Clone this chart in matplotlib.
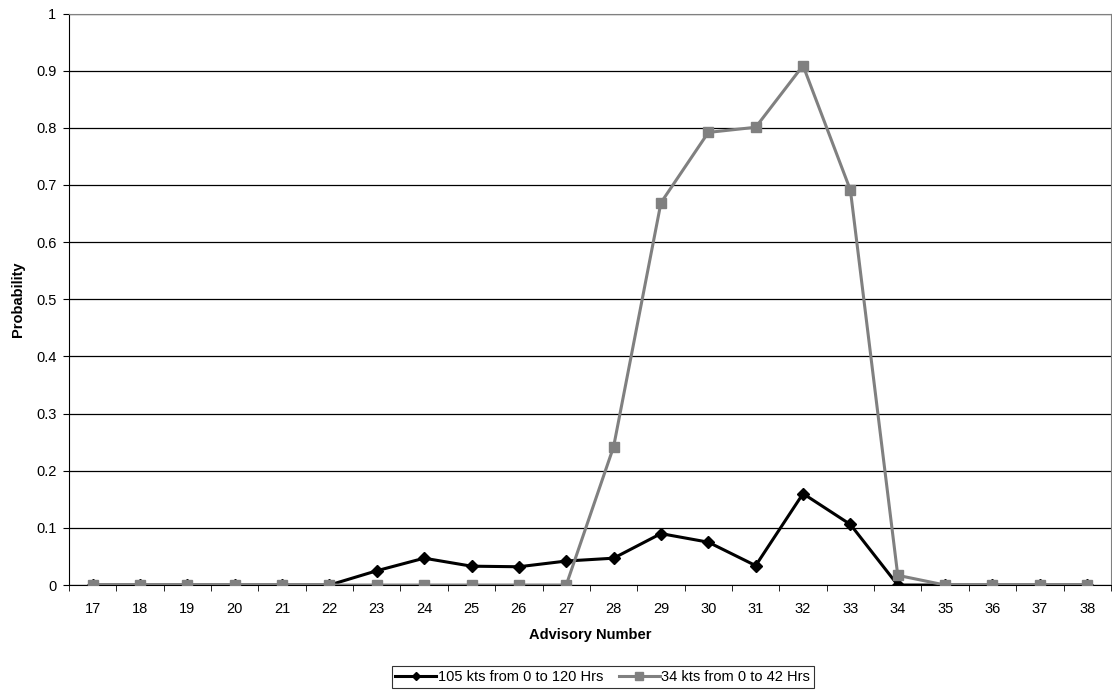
import numpy as np
import matplotlib.pyplot as plt

plt.rcParams['font.family'] = ['Liberation Sans', 'DejaVu Sans']

# data
advisory = list(range(17, 39))
p105 = [0, 0, 0, 0, 0, 0, 0.025, 0.047, 0.033, 0.032, 0.042, 0.047,
        0.090, 0.075, 0.034, 0.160, 0.106, 0, 0, 0, 0, 0]
p34 = [0, 0, 0, 0, 0, 0, 0, 0, 0, 0, 0, 0.242,
       0.669, 0.792, 0.801, 0.909, 0.691, 0.017, 0, 0, 0, 0]

fig = plt.figure(figsize=(11.12, 6.94), dpi=100)
ax = fig.add_axes([0.062, 0.157, 0.937, 0.8235])

x = np.arange(len(advisory))
ax.plot(x, p105, color='black', lw=2.2, marker='D', ms=6,
        label='105 kts from 0 to 120 Hrs', zorder=3)
ax.plot(x, p34, color='#808080', lw=2.2, marker='s', ms=7,
        label='34 kts from 0 to 42 Hrs', zorder=4)

ax.set_xlim(-0.5, len(advisory) - 0.5)
ax.set_ylim(0, 1)
ax.set_yticks(np.arange(0, 1.01, 0.1))
ax.set_yticklabels(['0', '0.1', '0.2', '0.3', '0.4', '0.5', '0.6', '0.7', '0.8', '0.9', '1'])
ax.set_xticks(x)
ax.set_xticklabels([str(a) for a in advisory])
ax.set_xticks(np.arange(-0.5, len(advisory), 1), minor=True)
ax.tick_params(axis='x', which='major', length=0, labelsize=10.5, pad=12)
ax.tick_params(axis='x', which='minor', length=4, color='black')
ax.tick_params(axis='y', length=4, labelsize=10.5, color='black', pad=5)

ax.yaxis.grid(True, color='black', lw=0.9)
ax.set_axisbelow(True)
for s in ['top', 'right']:
    ax.spines[s].set_color('#808080')
for s in ['left', 'bottom']:
    ax.spines[s].set_color('black')

ax.set_xlabel('Advisory Number', fontsize=10.5, fontweight='bold', labelpad=9)
ax.set_ylabel('Probability', fontsize=10.5, fontweight='bold', labelpad=8)

leg = fig.legend(loc='center', bbox_to_anchor=(0.542, 0.0245), ncol=2,
                 fontsize=10.5, frameon=True, fancybox=False, edgecolor='black',
                 handlelength=2.8, handletextpad=0.1, columnspacing=1.1,
                 borderpad=0.25, markerscale=0.75)
leg.get_frame().set_linewidth(0.8)

fig.savefig('out.png', dpi=100)
